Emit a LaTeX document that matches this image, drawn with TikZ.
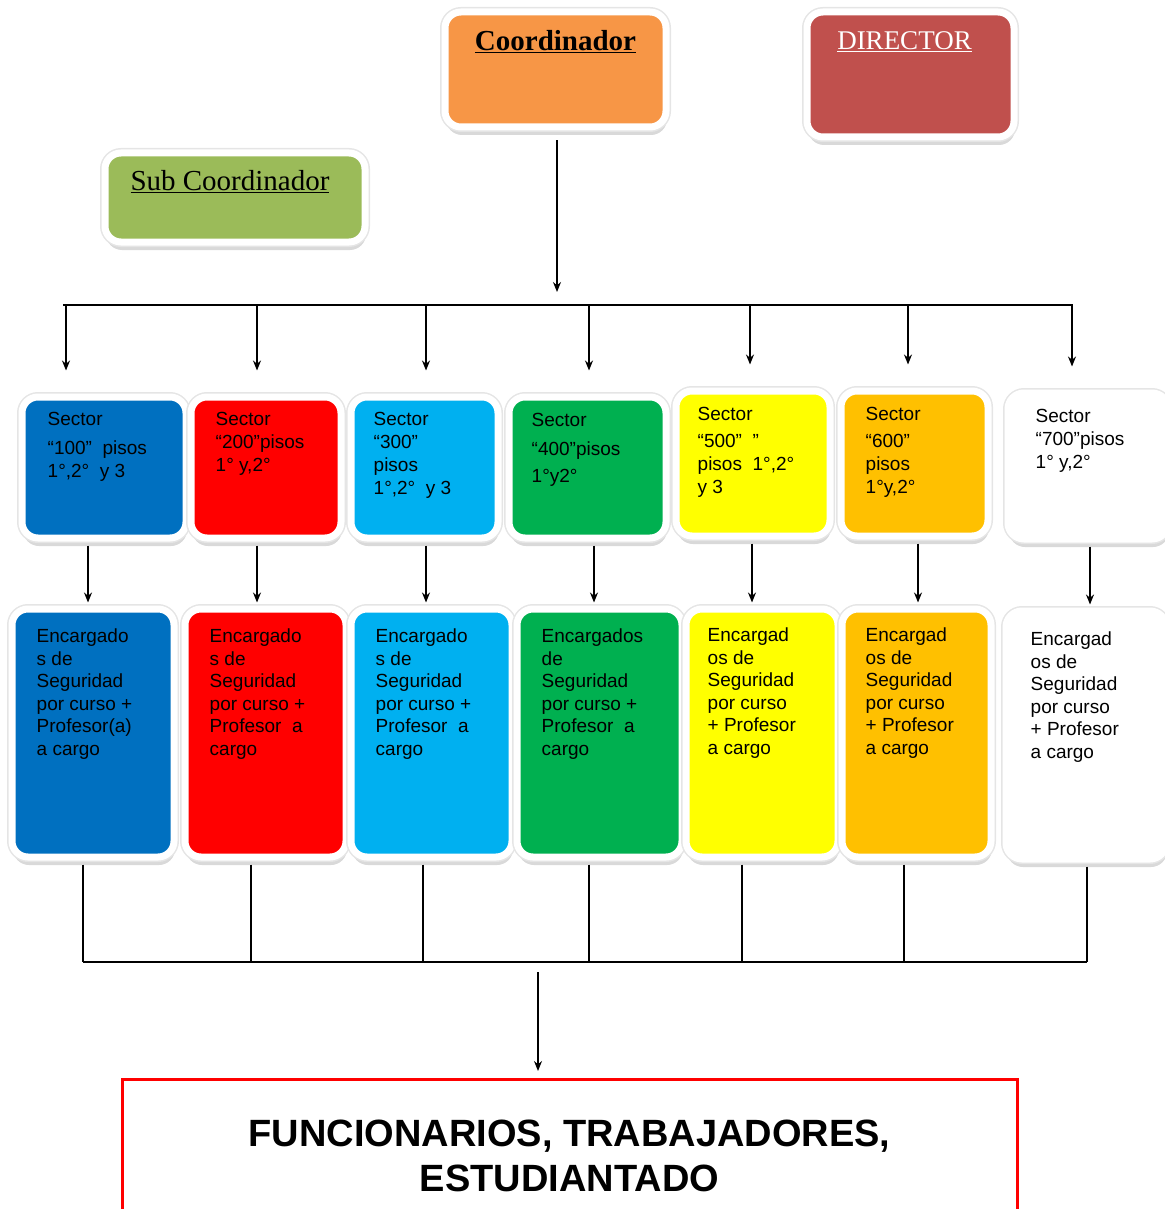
\documentclass[tikz,border=0pt]{standalone}
\usepackage{fontspec}
\setmainfont{Liberation Sans}
\newfontfamily\headfont{Liberation Serif}
\usetikzlibrary{positioning,shadows,arrows.meta}
\definecolor{coorange}{HTML}{F79646}
\definecolor{dired}{HTML}{C0504D}
\definecolor{subgreen}{HTML}{9BBB59}
\definecolor{secblue}{HTML}{0070C0}
\definecolor{secred}{HTML}{FF0000}
\definecolor{seccyan}{HTML}{00B0F0}
\definecolor{secgreen}{HTML}{00B050}
\definecolor{secyellow}{HTML}{FFFF00}
\definecolor{secorange}{HTML}{FFC000}
\tikzset{
  box/.style={rectangle, rounded corners=16pt, inner sep=0pt,
    drop shadow={shadow xshift=1pt, shadow yshift=-8pt, opacity=0.3},
    preaction={draw=black!10, line width=10pt},
    draw=white, line width=7pt},
  sectxt/.style={align=left, inner sep=0pt, font=\fontsize{19}{23}\selectfont},
  enctxt/.style={align=left, inner sep=0pt, font=\fontsize{19}{22.6}\selectfont},
  headtxt/.style={inner sep=0pt, font=\headfont\fontsize{29}{32}\selectfont},
  finbox/.style={rectangle, draw=red, line width=3pt, inner sep=0pt},
  fintxt/.style={align=center, inner sep=0pt, font=\bfseries\fontsize{38}{45}\selectfont},
  conn/.style={line width=1.4pt},
  arr/.style={conn, -{Stealth[length=10pt,width=8pt]}}
}
\begin{document}
\begin{tikzpicture}[x=1pt,y=-1pt]
    \useasboundingbox (0,0) rectangle (1164,1209);
    %% top boxes
    \node[box, fill=coorange, minimum width=221pt, minimum height=115pt] (co) at (555.5,69.5) {};
    \node[box, fill=dired, minimum width=207pt, minimum height=125pt] (di) at (910.5,74.5) {};
    \node[box, fill=subgreen, minimum width=260pt, minimum height=89pt] (sub) at (235,197.5) {};
    \node[headtxt, below=22pt of co.north] (coT) {\bfseries\underline{Coordinador}};
    \node[headtxt, text=white, font=\headfont\fontsize{27}{30}\selectfont, below=23pt of di.north, xshift=-6pt] (diT) {\underline{DIRECTOR}};
    \node[headtxt, below=21pt of sub.north, xshift=-5pt] (subT) {\underline{Sub Coordinador}};
    %% sectors
    \node[box, fill=secblue, minimum width=164pt, minimum height=141pt] (s1) at (104,467.5) {};
    \node[box, fill=secred, minimum width=150pt, minimum height=141pt] (s2) at (266,467.5) {};
    \node[box, fill=seccyan, minimum width=147pt, minimum height=141pt] (s3) at (424.5,467.5) {};
    \node[box, fill=secgreen, minimum width=157pt, minimum height=141pt] (s4) at (587.5,467.5) {};
    \node[box, fill=secyellow, minimum width=154pt, minimum height=145pt] (s5) at (753,463.5) {};
    \node[box, fill=secorange, minimum width=147pt, minimum height=145pt] (s6) at (914.5,463.5) {};
    \node[box, fill=white, minimum width=160pt, minimum height=146pt] (s7) at (1088,466) {};
    \node[sectxt, below right=19pt and 29pt of s1.north west] (s1t) {Sector\\[6pt]“100”\ \ pisos\\1°,2°\ \ y 3};
    \node[sectxt, below right=19pt and 28pt of s2.north west] (s2t) {Sector\\“200”pisos\\1°\ y,2°};
    \node[sectxt, below right=19pt and 26pt of s3.north west] (s3t) {Sector\\“300”\\pisos\\1°,2°\ \ y 3};
    \node[sectxt, below right=20pt and 26pt of s4.north west] (s4t) {Sector\\[6pt]“400”pisos\\[4pt]1°y2°};
    \node[sectxt, below right=20pt and 25pt of s5.north west] (s5t) {Sector\\[4pt]“500”\ \ ”\\pisos\ \ 1°,2°\\y 3};
    \node[sectxt, below right=20pt and 28pt of s6.north west] (s6t) {Sector\\[4pt]“600”\\pisos\\1°y,2°};
    \node[sectxt, below right=20pt and 31pt of s7.north west] (s7t) {Sector\\“700”pisos\\1°\ y,2°};
    %% encargados
    \node[box, fill=secblue, minimum width=162pt, minimum height=248pt] (e1) at (93,733) {};
    \node[box, fill=secred, minimum width=161pt, minimum height=248pt] (e2) at (265.5,733) {};
    \node[box, fill=seccyan, minimum width=161pt, minimum height=248pt] (e3) at (431.5,733) {};
    \node[box, fill=secgreen, minimum width=165pt, minimum height=248pt] (e4) at (599.5,733) {};
    \node[box, fill=secyellow, minimum width=152pt, minimum height=248pt] (e5) at (762,733) {};
    \node[box, fill=secorange, minimum width=149pt, minimum height=248pt] (e6) at (916.5,733) {};
    \node[box, fill=white, minimum width=160pt, minimum height=248pt] (e7) at (1086,735) {};
    \node[enctxt, below right=23pt and 28pt of e1.north west] (e1t) {Encargado\\s de\\Seguridad\\por curso +\\Profesor(a)\\a cargo};
    \node[enctxt, below right=23pt and 28pt of e2.north west] (e2t) {Encargado\\s de\\Seguridad\\por curso +\\Profesor\ \ a\\cargo};
    \node[enctxt, below right=23pt and 28pt of e3.north west] (e3t) {Encargado\\s de\\Seguridad\\por curso +\\Profesor\ \ a\\cargo};
    \node[enctxt, below right=23pt and 28pt of e4.north west] (e4t) {Encargados\\de\\Seguridad\\por curso +\\Profesor\ \ a\\cargo};
    \node[enctxt, below right=22pt and 25pt of e5.north west] (e5t) {Encargad\\os de\\Seguridad\\por curso\\+ Profesor\\a cargo};
    \node[enctxt, below right=22pt and 27pt of e6.north west] (e6t) {Encargad\\os de\\Seguridad\\por curso\\+ Profesor\\a cargo};
    \node[enctxt, below right=24pt and 28pt of e7.north west] (e7t) {Encargad\\os de\\Seguridad\\por curso\\+ Profesor\\a cargo};
    %% bottom box
    \node[finbox, minimum width=895pt, minimum height=170pt, anchor=north] (fin) at (569.5,1078) {};
    \node[fintxt, below=42pt of fin.north] (finT) {FUNCIONARIOS, TRABAJADORES,\\ESTUDIANTADO};
    %% coordinador to bus
    \coordinate (busL) at (63,305);
    \coordinate (busR) at (1073,305);
    \coordinate (busT) at (557,292);
    \draw[arr, shorten <=10pt] (co.south -| busT) -- (busT);
    \draw[conn] (busL) -- (busR);
    %% bus to sectors
    \foreach \i/\x in {1/66,2/257,3/426,4/589,5/750,6/908,7/1072}{
        \coordinate (d\i) at (\x,305);
        \draw[arr, shorten >=23pt] (d\i) -- (d\i |- s\i.north);
    }
    %% sectors to encargados
    \foreach \i/\x in {1/88,2/257,3/426,4/594,5/752,6/918,7/1090}{
        \coordinate (a\i) at (\x,0);
        \draw[arr, shorten <=4pt, shorten >=3pt] (a\i |- s\i.south) -- (a\i |- e\i.north);
    }
    %% encargados to lower bus
    \foreach \i/\x in {1/83,2/251,3/423,4/589,5/742,6/904,7/1087}{
        \coordinate (u\i) at (\x,962);
        \draw[conn, shorten <=4pt] (u\i |- e\i.south) -- (u\i);
    }
    \draw[conn] (u1) -- (u7);
    %% lower bus to final box
    \coordinate (dn) at (538,972);
    \draw[arr, shorten >=7pt] (dn) -- (dn |- fin.north);
\end{tikzpicture}
\end{document}
